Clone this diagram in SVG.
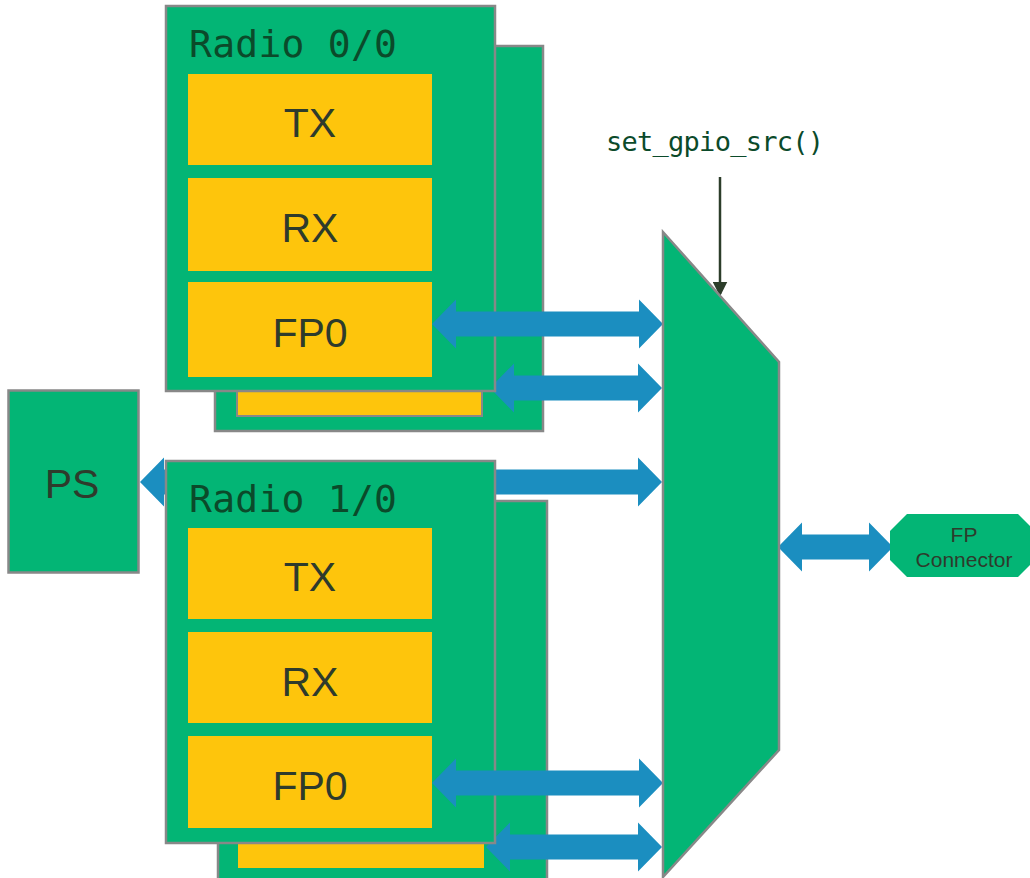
<svg xmlns="http://www.w3.org/2000/svg" width="1030" height="878" viewBox="0 0 1030 878">
<style>
.box{fill:#03B575;stroke:#888;stroke-width:2.5}
.yel{fill:#FEC50C}
.yelb{fill:#FEC50C;stroke:#888;stroke-width:2}
.arr{fill:#1B8EC0}
.lbl{font-family:"Liberation Sans",Arial,sans-serif;font-size:41px;fill:#2E3B2C;text-anchor:middle}
.mono{font-family:"DejaVu Sans Mono","Liberation Mono",monospace;fill:#0B4A2A}
.small{font-family:"Liberation Sans",Arial,sans-serif;font-size:21px;fill:#2E3B2C;text-anchor:middle}
</style>
<defs>
<marker id="ah" markerWidth="6" markerHeight="6" refX="5" refY="3" orient="auto" markerUnits="strokeWidth">
<path d="M0,0 L6,3 L0,6 z" fill="#2C3D2A"/>
</marker>
</defs>
<g id="radio00-back">
<rect class="box" x="215" y="46" width="328" height="385"/>
<rect class="yelb" x="237" y="391" width="245" height="25"/>
</g>
<g id="radio10-back">
<rect class="box" x="218" y="501" width="329" height="400"/>
<rect class="yel" x="238" y="843" width="246" height="25"/>
</g>
<g id="connectors-behind">
<polygon class="arr" points="490,388 514,363.5 514,375.5 638,375.5 638,363.5 662,388 638,412.5 638,400.5 514,400.5 514,412.5"/>
<polygon class="arr" points="140,482 164,457.5 164,469.5 638,469.5 638,457.5 662,482 638,506.5 638,494.5 164,494.5 164,506.5"/>
<polygon class="arr" points="486,847 510,822.5 510,834.5 638,834.5 638,822.5 662,847 638,871.5 638,859.5 510,859.5 510,871.5"/>
</g>
<g id="radio00">
<rect class="box" x="166" y="6" width="329" height="385"/>
<text class="mono" x="189" y="57" font-size="38" textLength="208" lengthAdjust="spacing">Radio 0/0</text>
<rect class="yel" x="188" y="74" width="244" height="91"/>
<text class="lbl" x="310" y="137">TX</text>
<rect class="yel" x="188" y="178" width="244" height="93"/>
<text class="lbl" x="310" y="242">RX</text>
<rect class="yel" x="188" y="282" width="244" height="95"/>
<text class="lbl" x="310" y="347">FP0</text>
</g>
<g id="radio10">
<rect class="box" x="166" y="461" width="329" height="382"/>
<text class="mono" x="189" y="512" font-size="38" textLength="208" lengthAdjust="spacing">Radio 1/0</text>
<rect class="yel" x="188" y="528" width="244" height="91"/>
<text class="lbl" x="310" y="591">TX</text>
<rect class="yel" x="188" y="632" width="244" height="91"/>
<text class="lbl" x="310" y="696">RX</text>
<rect class="yel" x="188" y="736" width="244" height="92"/>
<text class="lbl" x="310" y="800">FP0</text>
</g>
<g id="ps">
<rect class="box" x="8.5" y="390.5" width="130" height="182"/>
<text class="lbl" x="72" y="498" font-size="42">PS</text>
</g>
<g id="connectors">
<polygon class="arr" points="432,324 456,299.5 456,311.5 639,311.5 639,299.5 663,324 639,348.5 639,336.5 456,336.5 456,348.5"/>
<polygon class="arr" points="432,783 456,758.5 456,770.5 639,770.5 639,758.5 663,783 639,807.5 639,795.5 456,795.5 456,807.5"/>
<polygon class="arr" points="778,547 802,522.5 802,534.5 869,534.5 869,522.5 893,547 869,571.5 869,559.5 802,559.5 802,571.5"/>
<line x1="720" y1="177" x2="720" y2="294" stroke="#2C3D2A" stroke-width="2.5" marker-end="url(#ah)"/>
</g>
<g id="mux">
<polygon points="663,232 779,362 779,750 663,877" fill="#03B575" stroke="#888" stroke-width="2.5"/>
</g>
<g id="gpio-label">
<text class="mono" x="606" y="151" font-size="27" textLength="218" lengthAdjust="spacing">set_gpio_src()</text>
</g>
<g id="fp-connector">
<polygon points="907,514 1018,514 1034,530 1034,561 1018,577 907,577 890,560 890,531" fill="#03B575"/>
<text class="small" x="964" y="542">FP</text>
<text class="small" x="964" y="567">Connector</text>
</g>
</svg>
